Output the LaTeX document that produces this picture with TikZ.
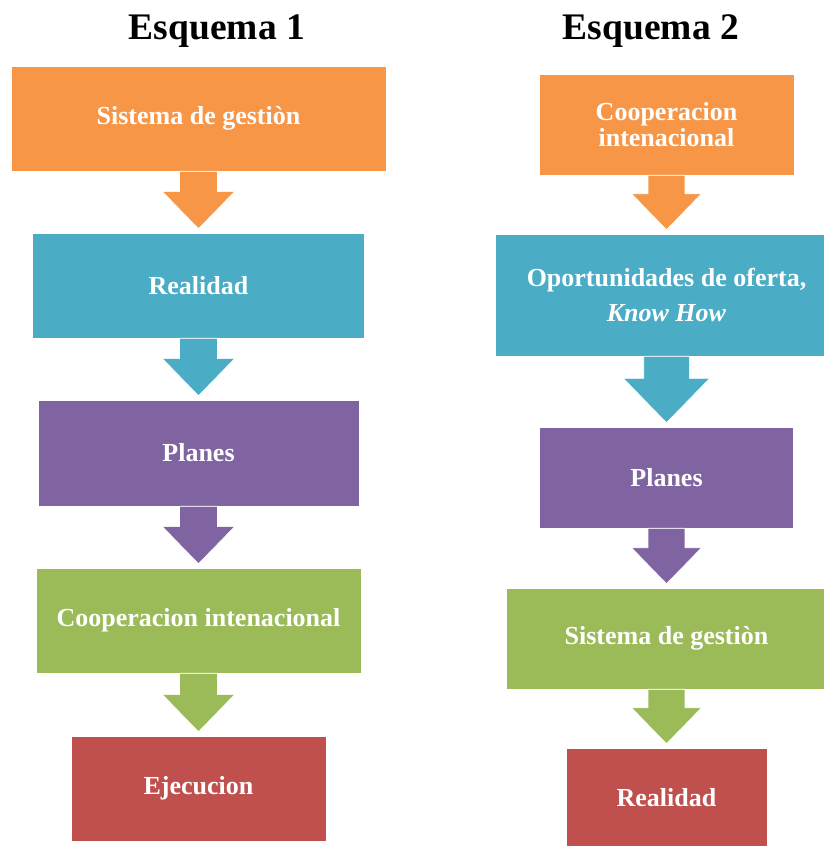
\documentclass[tikz,border=0pt]{standalone}
\usepackage{fontspec}
\setmainfont{Liberation Serif}
\usetikzlibrary{calc}

\definecolor{naranja}{HTML}{F79646}
\definecolor{azul}{HTML}{4BACC6}
\definecolor{morado}{HTML}{8064A2}
\definecolor{verde}{HTML}{9BBB59}
\definecolor{rojo}{HTML}{C0504D}

% block arrow from the bottom of #2 to the top of #3, #1 = size factor
\newcommand{\flecha}[4][1]{%
  \filldraw[fill=#4, draw=white, line width=0.6pt]
  ($(#2.south)+(-19*#1,0)$) -- ($(#2.south)+(19*#1,0)$)
  -- ($(#3.north)+(19*#1,4+37*#1)$) -- ($(#3.north)+(36*#1,4+37*#1)$)
  -- ($(#3.north)+(0,4)$) % tip
  -- ($(#3.north)+(-36*#1,4+37*#1)$) -- ($(#3.north)+(-19*#1,4+37*#1)$)
  -- cycle;}

\begin{document}
\begin{tikzpicture}[x=1pt, y=1pt,
    caja/.style={draw=white, line width=0.6pt, inner sep=0pt, align=center,
      text=white, font=\fontsize{26}{26}\selectfont\bfseries},
    titulo/.style={inner sep=0pt, anchor=base,
      font=\fontsize{37.5}{40}\selectfont\bfseries}]
  \useasboundingbox (0,0) rectangle (823,846);

  % Esquema 1
  \node[titulo] (t1) at (217,806) {Esquema 1};

  \node[caja, fill=naranja, minimum width=375pt, minimum height=105pt]
    (s1a) at (198.5,727.5) {Sistema de gestiòn};
  \node[caja, fill=azul, minimum width=332pt, minimum height=105pt]
    (s1b) at (198.5,560.5) {Realidad};
  \node[caja, fill=morado, minimum width=321pt, minimum height=106pt]
    (s1c) at (198.5,393) {Planes};
  \node[caja, fill=verde, minimum width=325pt, minimum height=105pt]
    (s1d) at (198.5,225.5) {Cooperacion intenacional};
  \node[caja, fill=rojo, minimum width=255pt, minimum height=105pt]
    (s1e) at (198.5,57.5) {Ejecucion};

  \flecha{s1a}{s1b}{naranja}
  \flecha{s1b}{s1c}{azul}
  \flecha{s1c}{s1d}{morado}
  \flecha{s1d}{s1e}{verde}

  % Esquema 2
  \node[titulo] (t2) at (651,806) {Esquema 2};

  \node[caja, fill=naranja, minimum width=255pt, minimum height=101pt]
    (s2a) at (666.5,721.5) {Cooperacion\\intenacional};
  \node[caja, fill=azul, minimum width=342pt, minimum height=122pt]
    (s2b) at (666.5,551) {Oportunidades de oferta,\\[9pt]\textit{Know How}};
  \node[caja, fill=morado, minimum width=254pt, minimum height=101pt]
    (s2c) at (666.5,368.5) {Planes};
  \node[caja, fill=verde, minimum width=320pt, minimum height=101pt]
    (s2d) at (666.5,207.5) {Sistema de gestiòn};
  \node[caja, fill=rojo, minimum width=201pt, minimum height=100pt]
    (s2e) at (666.5,48) {Realidad};

  \flecha[0.97]{s2a}{s2b}{naranja}
  \flecha[1.2]{s2b}{s2c}{azul}
  \flecha[0.97]{s2c}{s2d}{morado}
  \flecha[0.97]{s2d}{s2e}{verde}
\end{tikzpicture}
\end{document}
